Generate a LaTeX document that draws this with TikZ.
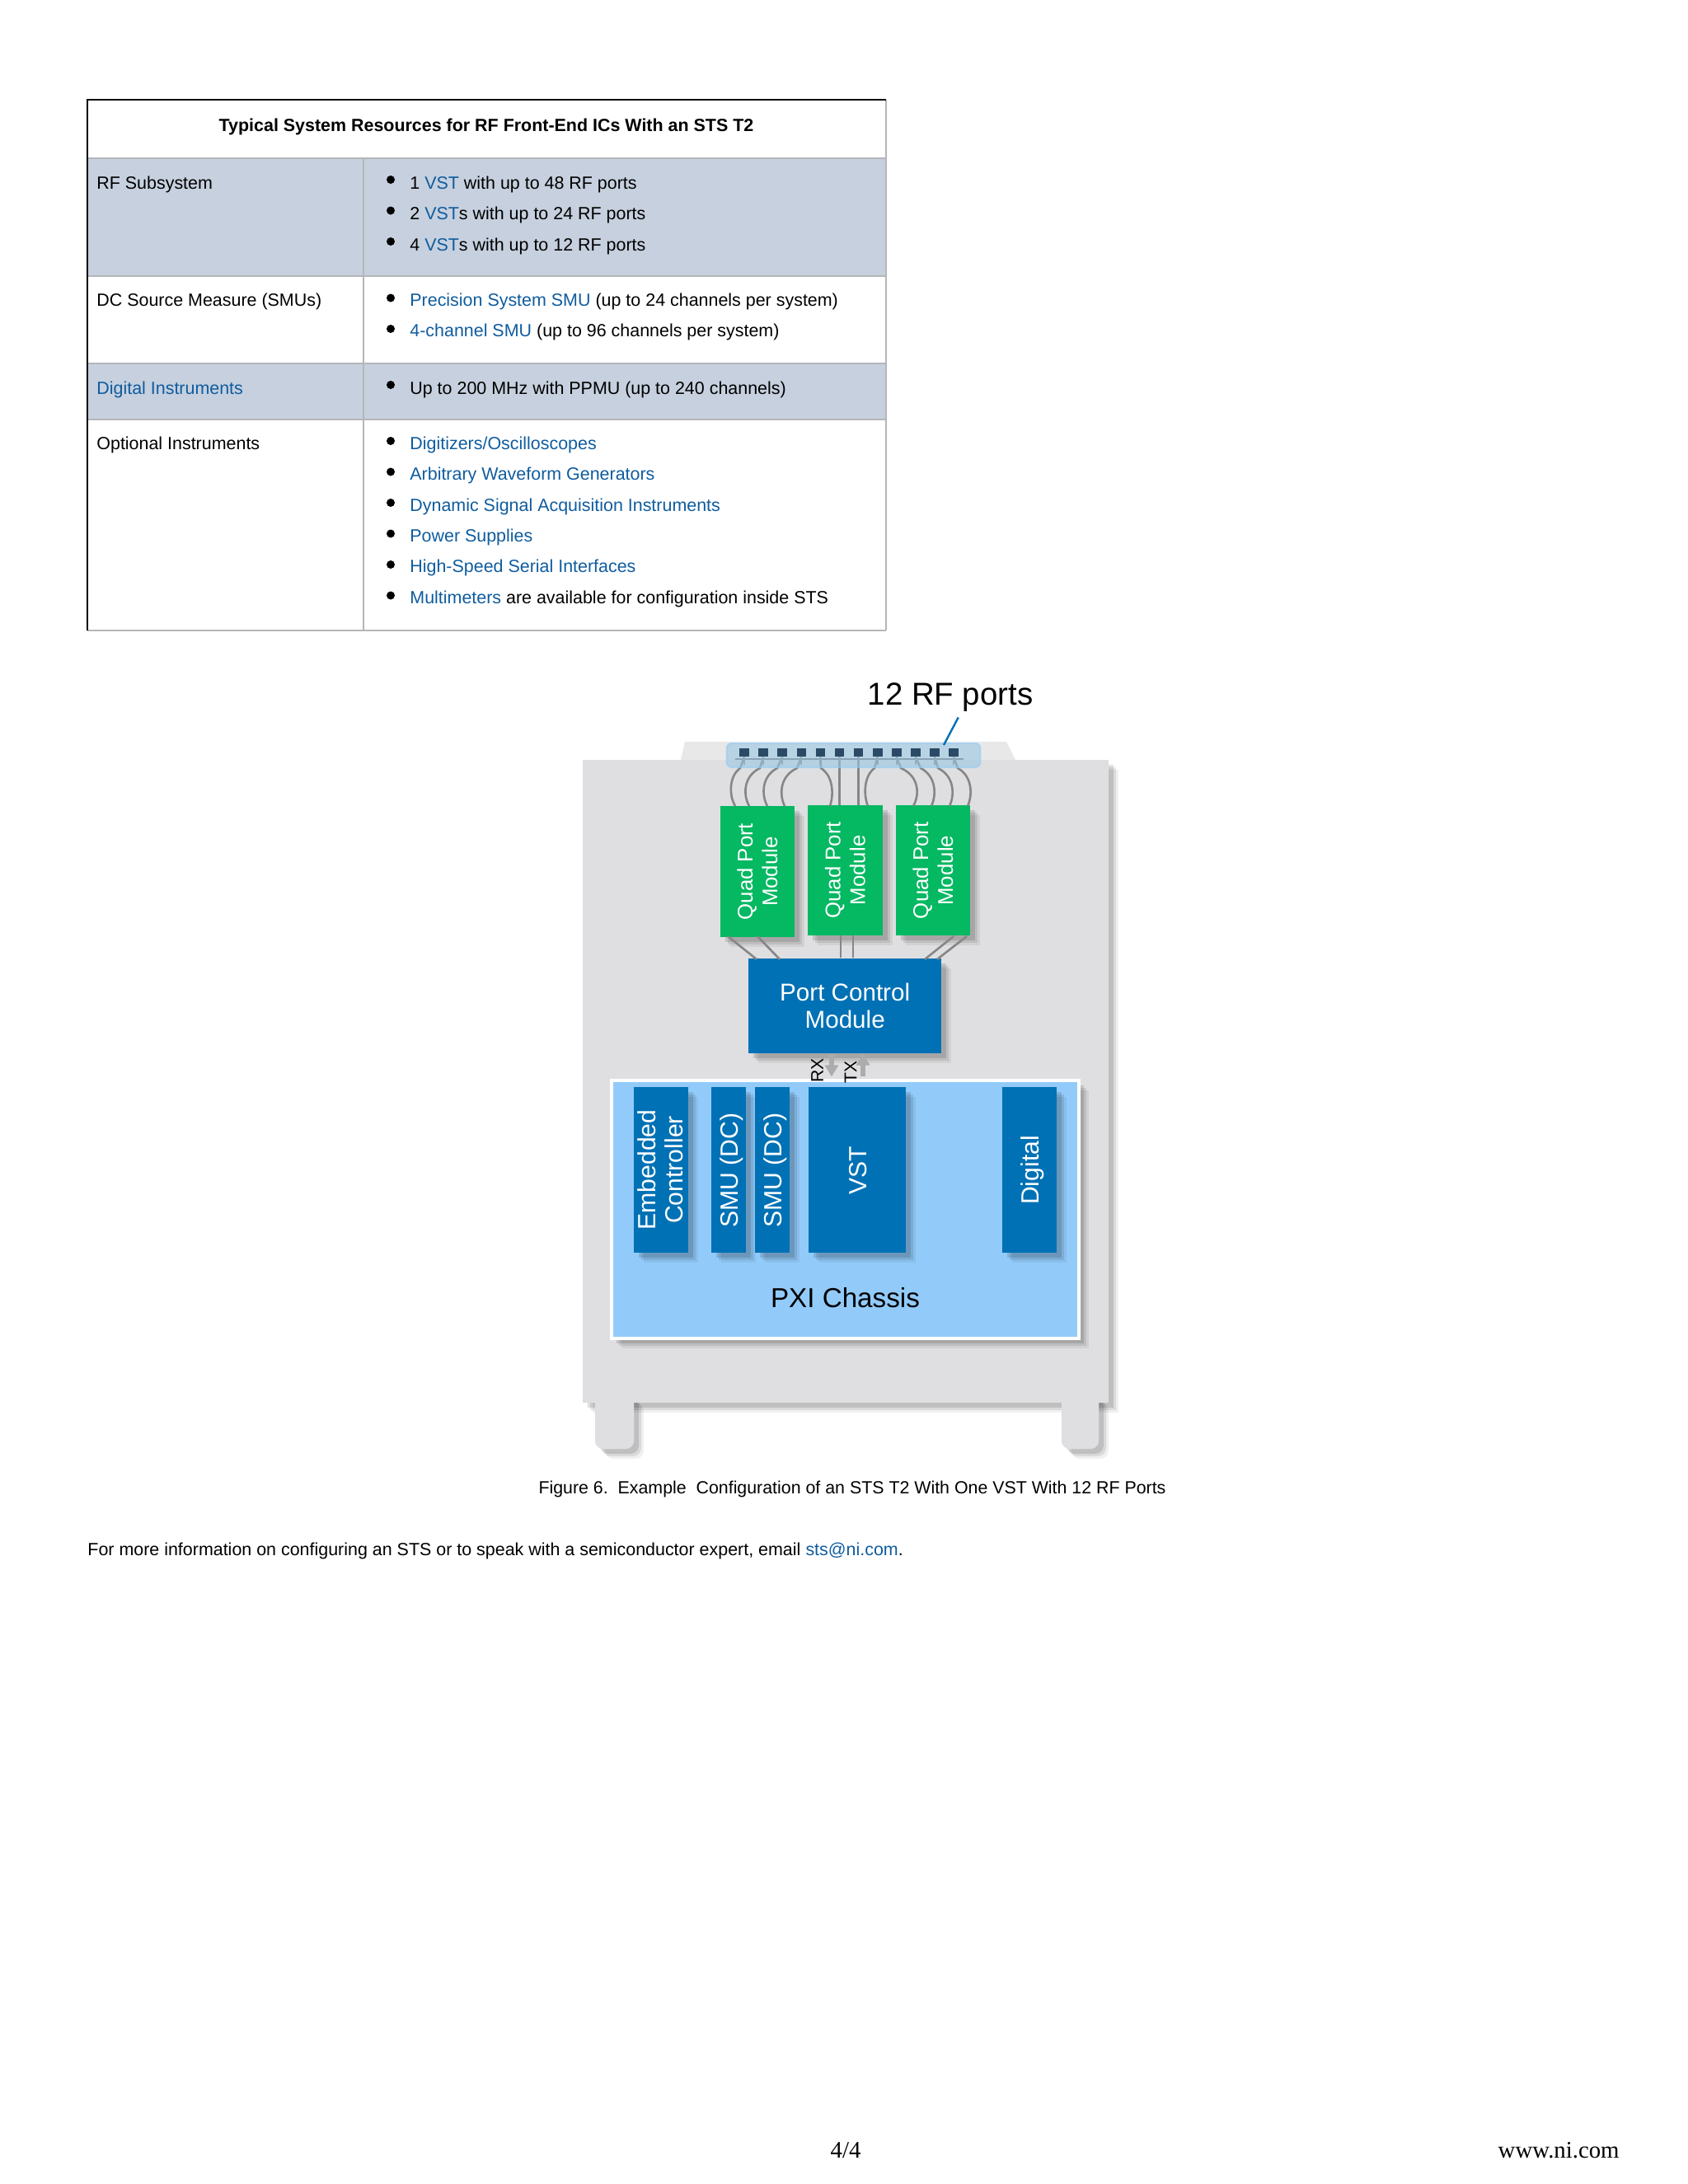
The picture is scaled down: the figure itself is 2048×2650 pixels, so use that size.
\documentclass[tikz,border=0pt]{standalone}
\usepackage{fontspec}
\setmainfont{Liberation Sans}
\newfontfamily\serifpage{Liberation Serif}
\usetikzlibrary{arrows.meta}
\definecolor{linkblue}{HTML}{0F5C9E}
\definecolor{rowblue}{HTML}{C6D0DE}
\definecolor{gridgrey}{HTML}{B4B6B8}
\definecolor{cabinet}{HTML}{DFDFE1}
\definecolor{traygrey}{HTML}{E8E8E9}
\definecolor{modgreen}{HTML}{05B862}
\definecolor{niblue}{HTML}{0071B5}
\definecolor{pxiblue}{HTML}{92CBFA}
\definecolor{cablegrey}{HTML}{868687}
\definecolor{portdark}{HTML}{2B4A66}
\newcommand{\lnk}[1]{\textcolor{linkblue}{#1}}
\tikzset{
 celltext/.style={anchor=base west,inner sep=0pt,font=\fontsize{10.72}{13}\selectfont},
 dotmark/.style={circle,fill=black,inner sep=0pt,minimum size=5pt},
 softshadow/.style={
  preaction={draw=none,fill=black,opacity=0.06,transform canvas={xshift=6pt,yshift=-6pt}},
  preaction={draw=none,fill=black,opacity=0.09,transform canvas={xshift=4.5pt,yshift=-4.5pt}},
  preaction={draw=none,fill=black,opacity=0.12,transform canvas={xshift=3pt,yshift=-3pt}}},
 blockbox/.style={rectangle,draw=none,fill=niblue,text=white,inner sep=0pt,align=center,softshadow},
 quadbox/.style={rectangle,draw=none,fill=modgreen,text=white,inner sep=0pt,softshadow},
 blocktext/.style={rotate=90,text=white,inner sep=0pt,align=center,font=\fontsize{15.1}{16.5}\selectfont},
 quadtext/.style={rotate=90,text=white,inner sep=0pt,align=center,font=\fontsize{12.9}{15}\selectfont},
 sigtext/.style={rotate=90,inner sep=0pt,font=\fontsize{10.6}{12}\selectfont},
 cable/.style={draw=cablegrey,line width=1.3pt},
 sigarrow/.style={draw=gray!65,line width=3.2pt,-{Triangle[width=8pt,length=7pt]}},
 portsq/.style={fill=portdark,inner sep=0pt,minimum width=5.8pt,minimum height=5pt},
}
\begin{document}
\begin{tikzpicture}[x=0.5pt,y=-0.5pt]
    \useasboundingbox (0,0) rectangle (2048,2650);

    % table
    \fill[rowblue] (106,192) rectangle (1075,335);
    \fill[rowblue] (106,441) rectangle (1075,509);
    \foreach \y in {192,335,441,509,765}
        \draw[gridgrey,line width=1pt] (106,\y) -- (1075,\y);
    \draw[gridgrey,line width=1pt] (441,192) -- (441,765);
    \draw[gridgrey,line width=1pt] (1075,121) -- (1075,765);
    \draw[black,line width=1pt] (106,765) -- (106,121) -- (1075,121);

    \node[celltext,anchor=base,font=\fontsize{10.72}{13}\selectfont\bfseries] (head) at (590,159) {Typical System Resources for RF Front-End ICs With an STS T2};
    \node[celltext] (rowrf) at (117,229.5) {RF Subsystem};
    \node[celltext] (rowdc) at (117,371.5) {DC Source Measure (SMUs)};
    \node[celltext] (rowdig) at (117,478) {\lnk{Digital Instruments}};
    \node[celltext] (rowopt) at (117,545.5) {Optional Instruments};

    \foreach \y in {218,255.5,293,361.5,399,467,535,572.5,610,647.5,685,722.5}
        \node[dotmark] (dot\y) at (474,\y) {};

    \node[celltext] (rfa) at (497,229) {1 \lnk{VST} with up to 48 RF ports};
    \node[celltext] (rfb) at (497,266.5) {2 \lnk{VST}s with up to 24 RF ports};
    \node[celltext] (rfc) at (497,304) {4 \lnk{VST}s with up to 12 RF ports};
    \node[celltext] (dca) at (497,371) {\lnk{Precision System SMU} (up to 24 channels per system)};
    \node[celltext] (dcb) at (497,408.5) {\lnk{4-channel SMU} (up to 96 channels per system)};
    \node[celltext] (diga) at (497,478) {Up to 200 MHz with PPMU (up to 240 channels)};
    \node[celltext] (opta) at (497,545.5) {\lnk{Digitizers/Oscilloscopes}};
    \node[celltext] (optb) at (497,582.5) {\lnk{Arbitrary Waveform Generators}};
    \node[celltext] (optc) at (497,620) {\lnk{Dynamic Signal Acquisition Instruments}};
    \node[celltext] (optd) at (497,657) {\lnk{Power Supplies}};
    \node[celltext] (opte) at (497,694.5) {\lnk{High-Speed Serial Interfaces}};
    \node[celltext] (optf) at (497,732) {\lnk{Multimeters} are available for configuration inside STS};

    % cabinet
    \fill[traygrey] (831,900) -- (1221,900) -- (1232,922) -- (826,922) -- cycle;
    \path[fill=cabinet,rounded corners=5pt,softshadow] (722,1690) rectangle (769,1758);
    \path[fill=cabinet,rounded corners=5pt,softshadow] (1288,1690) rectangle (1333,1758);
    \path[fill=cabinet,softshadow] (707,922) rectangle (1345,1702);
    \path[fill=cabinet,rounded corners=5pt] (722,1702) -- (722,1758) -- (769,1758) -- (769,1702);
    \path[fill=cabinet,rounded corners=5pt] (1288,1702) -- (1288,1758) -- (1333,1758) -- (1333,1702);

    % ports and modules
    \draw[black!55,line width=1pt] (892,920.7) -- (1169,920.7);
    \foreach \n [evaluate=\n as \px using 903+(\n-1)*23.1] in {1,...,12} {
        \node[portsq] (p\n) at (\px,913) {};
        \draw[black!45,line width=1pt] (p\n.south) -- ++(0,10);
    }

    \node[quadbox,minimum width=45pt,minimum height=79.4pt] (qa) at (919,1057.6) {};
    \node[quadbox,minimum width=45.4pt,minimum height=79pt] (qb) at (1025.3,1055.9) {};
    \node[quadbox,minimum width=45.1pt,minimum height=79pt] (qc) at (1131.9,1056.2) {};
    \node[quadtext] (qatext) at (qa) {Quad Port\\Module};
    \node[quadtext] (qbtext) at (qb) {Quad Port\\Module};
    \node[quadtext] (qctext) at (qc) {Quad Port\\Module};

    \foreach \n/\sx/\cx/\ex in {
        1/898/884.3/892,
        2/922/901.5/909,
        3/943/923.7/931,
        4/967/945.5/952,
        5/996/1011.5/1007,
        8/1061/1047.7/1053,
        9/1093/1115.8/1108,
        10/1117/1136.2/1130,
        11/1138/1158.3/1152,
        12/1162/1180/1174} {
        \coordinate (qtop\n) at (\ex,978);
        \draw[cable] (p\n.south) -- (\sx,932) .. controls (\cx,942) and (\cx,965) .. (qtop\n);
    }
    \foreach \n in {6,7} {
        \coordinate (qtop\n) at (p\n |- qb.north);
        \draw[cable] (p\n.south) -- (qtop\n);
    }

    \node[fill=niblue!40!white,opacity=0.6,draw=pxiblue,line width=1pt,rounded corners=3pt,inner sep=0pt,minimum width=153.8pt,minimum height=14.6pt] (portbar) at (1035.5,916.4) {};
    \foreach \n in {1,...,12}
        \node[portsq] (pt\n) at (p\n) {};

    \node[inner sep=0pt,font=\fontsize{19.2}{22}\selectfont,anchor=base] (rflabel) at (1153,855) {12 RF ports};
    \coordinate (rfline) at (1162.7,870.5);
    \coordinate (rfbar) at (1145,904);
    \draw[niblue,line width=1.2pt] (rfline) -- (rfbar);

    % port control
    \node[blockbox,minimum width=117.2pt,minimum height=57.7pt,font=\fontsize{14.8}{16.8}\selectfont] (pcm) at (1025.2,1220.5) {Port Control\\Module};

    \foreach \n/\sx/\ex in {a/883/918,b/919/946,c/1157/1122,d/1173/1137} {
        \coordinate (low\n) at (\sx,1136);
        \coordinate (lowe\n) at (\ex,1164);
    }
    \draw[cable] (lowa) -- (lowea);
    \draw[cable] (lowb) -- (loweb);
    \draw[cable] (lowc) -- (lowec);
    \draw[cable] (lowd) -- (lowed);
    \draw[cable] (qb.south -| 1020,0) -- (pcm.north -| 1020,0);
    \draw[cable] (qb.south -| 1035,0) -- (pcm.north -| 1035,0);

    % pxi chassis
    \node[rectangle,draw=white,line width=2pt,fill=pxiblue,inner sep=0pt,minimum width=283.5pt,minimum height=156.5pt,softshadow] (pxi) at (1025.3,1467.8) {};
    \node[inner sep=0pt,font=\fontsize{16.6}{20}\selectfont,anchor=base] (pxitext) at (1025.5,1586) {PXI Chassis};

    \coordinate (rxtop) at (pcm.south -| 1009,0);
    \coordinate (rxend) at (pxi.north -| 1009,0);
    \coordinate (txtop) at (pcm.south -| 1047,0);
    \coordinate (txend) at (pxi.north -| 1047,0);
    \draw[sigarrow] (rxtop) -- ([yshift=1.5pt]rxend);
    \draw[sigarrow] ([yshift=1.5pt]txend) -- (txtop);
    \node[sigtext] (rxtext) at (991.5,1299) {RX};
    \node[sigtext] (txtext) at (1032,1300.5) {TX};

    \node[blockbox,minimum width=33pt,minimum height=100.5pt] (emb) at (801.6,1419.5) {};
    \node[blockbox,minimum width=20.8pt,minimum height=100.5pt] (smua) at (884.2,1419.5) {};
    \node[blockbox,minimum width=21.2pt,minimum height=100.5pt] (smub) at (936.7,1419.5) {};
    \node[blockbox,minimum width=59pt,minimum height=100.5pt] (vst) at (1039.5,1419.5) {};
    \node[blockbox,minimum width=33pt,minimum height=100.5pt] (digi) at (1249,1419.5) {};
    \node[blocktext] (embtext) at (emb) {Embedded\\Controller};
    \node[blocktext] (smuatext) at (888,1420) {SMU (DC)};
    \node[blocktext] (smubtext) at (941,1420) {SMU (DC)};
    \node[blocktext] (vsttext) at (1041,1420) {VST};
    \node[blocktext] (digitext) at (1253,1420) {Digital};

    % caption and page foot
    \node[celltext,anchor=base,font=\fontsize{10.68}{13}\selectfont] (caption) at (1034,1812.5) {Figure 6.\ \ Example\ \ Configuration of an STS T2 With One VST With 12 RF Ports};
    \node[celltext] (moreinfo) at (106,1887) {For more information on configuring an STS or to speak with a semiconductor expert, email \lnk{sts@ni.com}.};
    \node[inner sep=0pt,anchor=base,font=\serifpage\fontsize{14.4}{16}\selectfont] (pagenum) at (1026,2618) {4/4};
    \node[inner sep=0pt,anchor=base east,font=\serifpage\fontsize{14.4}{16}\selectfont] (siteurl) at (1965,2618) {www.ni.com};
\end{tikzpicture}
\end{document}
